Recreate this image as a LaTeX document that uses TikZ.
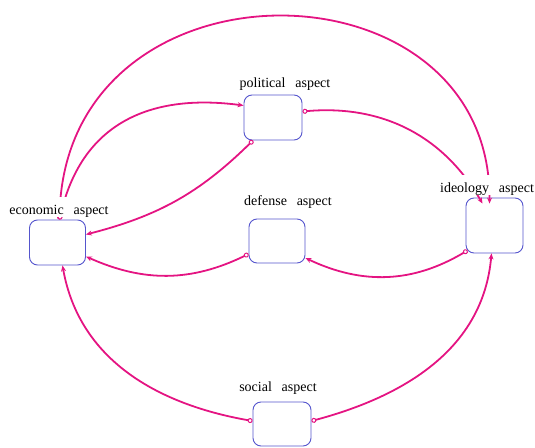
\documentclass[tikz,border=0pt]{standalone}
\usepackage{fontspec}
\setmainfont{Liberation Serif}
\usetikzlibrary{arrows.meta}
\definecolor{linkpink}{RGB}{228,20,130}
\definecolor{boxblue}{RGB}{85,85,205}

\begin{document}
\begin{tikzpicture}[
    x=1pt, y=1pt,
    aspect/.style={rectangle, draw=boxblue, line width=0.9pt, rounded corners=8pt, minimum width=56pt, minimum height=45pt, inner sep=0pt},
    tag/.style={fill=white, inner xsep=2pt, inner ysep=0pt, text height=18pt, text depth=2pt, anchor=base, font=\fontsize{14}{16}\selectfont},
    link/.style={{Circle[open, length=5pt, line width=1pt, fill=white]}-{Stealth[length=6pt, width=5pt]}, line width=1.8pt, draw=linkpink}
]
\useasboundingbox (0,0) rectangle (535,447);

% Aspects
\node[aspect] (economic) at (57.5,204.5) {};
\node[aspect, minimum width=58pt] (political) at (273,329.5) {};
\node[aspect, minimum width=57pt, minimum height=55pt] (ideology) at (494.5,221.5) {};
\node[aspect, minimum height=44pt] (defense) at (277,206) {};
\node[aspect, minimum width=58pt, minimum height=44pt] (social) at (282,23) {};

% Links
\draw[link] ([xshift=2]economic.north) .. controls +(5,270) and +(2,250) .. ([xshift=-5,yshift=-6]ideology.north);
\draw[link] ([xshift=2]economic.north) .. controls +(25,110) and +(-75,10) .. ([yshift=12]political.west);
\draw[link] ([xshift=-20]political.south) to[bend left=15] ([yshift=8]economic.east);
\draw[link] ([yshift=6]political.east) to[out=5, in=120] ([xshift=-12,yshift=-6]ideology.north);
\draw[link] ([yshift=-13]defense.west) to[bend left=25] ([yshift=-14]economic.east);
\draw[link] ([xshift=2,yshift=3]ideology.south west) to[bend left=28] ([yshift=-17]defense.east);
\draw[link] ([yshift=3]social.west) to[out=170, in=280] ([xshift=5]economic.south);
\draw[link] ([yshift=3]social.east) to[out=15, in=265] ([xshift=-3]ideology.south);

% Labels
\node[tag] (economic-tag) at (59,232) {economic\hspace{0.7em}aspect};
\node[tag] (political-tag) at (285,359) {political\hspace{0.7em}aspect};
\node[tag] (ideology-tag) at (487,254) {ideology\hspace{0.7em}aspect};
\node[tag] (defense-tag) at (288,241) {defense\hspace{0.7em}aspect};
\node[tag] (social-tag) at (278,56) {social\hspace{0.7em}aspect};

\end{tikzpicture}
\end{document}
